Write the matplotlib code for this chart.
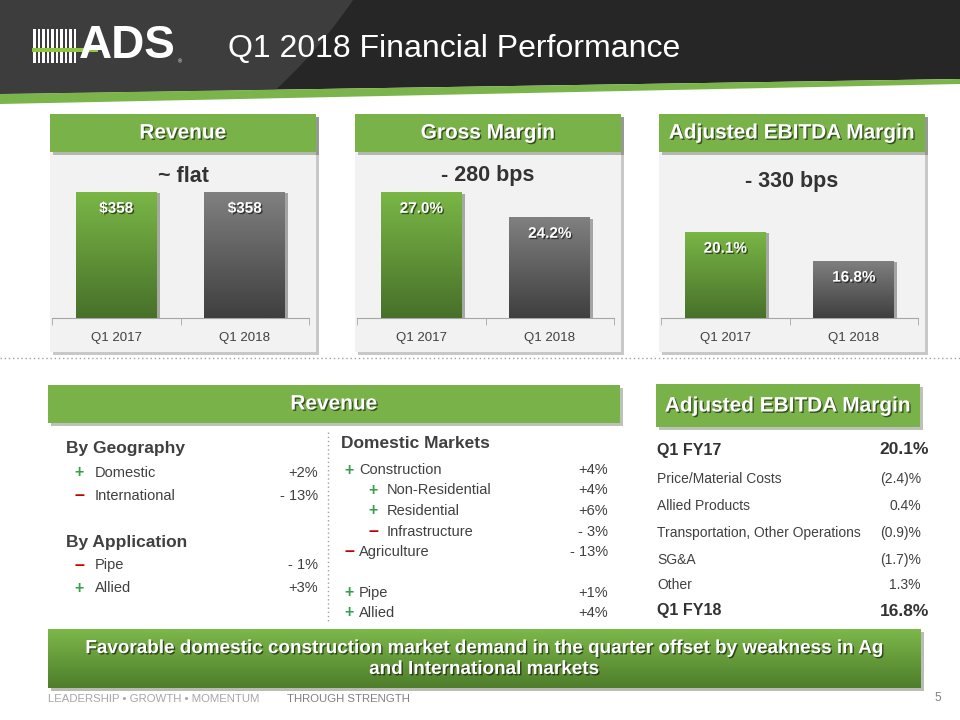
import matplotlib
matplotlib.use("Agg")
import matplotlib.pyplot as plt
import matplotlib.patches as mpatches
import matplotlib.patheffects as pe
import numpy as np
from matplotlib.colors import LinearSegmentedColormap

# ---- data -------------------------------------------------------------
quarters = ["Q1 2017", "Q1 2018"]
revenue = [358, 358]
gross_margin = [27.0, 24.2]
ebitda_margin = [20.1, 16.8]
panel_titles = ["Revenue", "Gross Margin", "Adjusted EBITDA Margin"]
panel_changes = ["~ flat", "- 280 bps", "- 330 bps"]

geo_labels = ["Domestic", "International"]
geo_changes = ["+2%", "- 13%"]
app_labels = ["Pipe", "Allied"]
app_changes = ["- 1%", "+3%"]
dom_labels = ["Construction", "Non-Residential", "Residential", "Infrastructure",
              "Agriculture", "Pipe", "Allied"]
dom_changes = ["+4%", "+4%", "+6%", "- 3%", "- 13%", "+1%", "+4%"]
dom_indent = [0, 1, 1, 1, 0, 0, 0]

bridge_start = ("Q1 FY17", "20.1%")
bridge_labels = ["Price/Material Costs", "Allied Products",
                 "Transportation, Other Operations", "SG&A", "Other"]
bridge_values = ["(2.4)%", "0.4%", "(0.9)%", "(1.7)%", "1.3%"]
bridge_end = ("Q1 FY18", "16.8%")

callout = ("Favorable domestic construction market demand in the quarter offset by weakness in Ag\n"
           "and International markets")

# ---- style ------------------------------------------------------------
FONT = ["Liberation Sans", "DejaVu Sans"]
GREEN = "#78b248"
DARK_TXT = "#404040"
PLUS_C = "#3a9e4f"
MINUS_C = "#c00000"

green_cmap = LinearSegmentedColormap.from_list("g", ["#7ab646", "#47712a"])
grey_cmap = LinearSegmentedColormap.from_list("k", ["#808080", "#3f3f3f"])
call_cmap = LinearSegmentedColormap.from_list("c", ["#7cb84a", "#4e7d2b"])

shadow = [pe.SimplePatchShadow(offset=(2.5, -2.5), alpha=0.3), pe.Normal()]
txt_shadow = [pe.withSimplePatchShadow(offset=(1, -1), shadow_rgbFace="black", alpha=0.55)]

fig = plt.figure(figsize=(9.6, 7.2), dpi=100, facecolor="white")
bg = fig.add_axes([0, 0, 1, 1])
bg.set_xlim(0, 960)
bg.set_ylim(720, 0)
bg.axis("off")

# ---- header band --------------------------------------------------------
xs = np.linspace(0, 960, 200)
green_top = 94 - 15 * xs / 960
green_bot = 104 - 20 * xs / 960
dark_poly = mpatches.Polygon(np.column_stack([np.r_[xs, 960, 0], np.r_[green_top, 0, 0]]),
                             closed=True, facecolor="#262626", edgecolor="none")
bg.add_patch(dark_poly)
swoosh = mpatches.Circle((-80, -295), 524, facecolor="#444444", edgecolor="none", alpha=0.8)
bg.add_patch(swoosh)
swoosh.set_clip_path(dark_poly)
bg.fill_between(xs, green_top, green_bot, color="#7ab44a", lw=0)

# logo
for k in range(10):
    bg.add_patch(mpatches.Rectangle((33 + k * 4.5, 29), 2.5, 34, color="white", lw=0))
bg.add_patch(mpatches.Rectangle((32, 48), 66, 4, color="#8dc63f", lw=0))
bg.text(79, 46, "ADS", color="white", fontsize=33, fontweight="bold", family=FONT,
        ha="left", va="center")
bg.text(178, 62, "\u00ae", color="white", fontsize=4, family=FONT, ha="left", va="center")
bg.text(228, 49, "Q1 2018 Financial Performance", color="white", fontsize=23,
        family=FONT, ha="left", va="center")

# ---- top bar panels ------------------------------------------------------
panel_left = [50, 355, 659]
panel_values = [revenue, gross_margin, ebitda_margin]
panel_ylims = [(0, 449), (12.9, 30.6), (10.3, 28.3)]
change_y = [176, 176, 181]

for i in range(3):
    left = panel_left[i]
    bg.add_patch(mpatches.Rectangle((left, 114), 266, 238, facecolor="#f2f2f2",
                                    edgecolor="none", path_effects=shadow))
    bg.add_patch(mpatches.Rectangle((left, 114), 266, 38, facecolor=GREEN,
                                    edgecolor="none", path_effects=shadow))
    bg.text(left + 133, 133, panel_titles[i], color="white", fontsize=15, fontweight="bold",
            family=FONT, ha="center", va="center", path_effects=txt_shadow)
    bg.text(left + 133, change_y[i], panel_changes[i], color="#333333", fontsize=15.5,
            fontweight="bold", family=FONT, ha="center", va="center")

    ax = fig.add_axes([(left + 2) / 960, (720 - 318) / 720, 257 / 960, 158 / 720])
    ax.patch.set_alpha(0)
    vals = panel_values[i]
    xpos = np.arange(len(quarters))
    bars = ax.bar(xpos, vals, width=0.63, color=["#47712a", "#3f3f3f"], zorder=2,
                  path_effects=[pe.SimplePatchShadow(offset=(2, -1), alpha=0.35), pe.Normal()])
    y0 = panel_ylims[i][0]
    grad = np.linspace(0, 1, 100).reshape(-1, 1)
    for j, b in enumerate(bars):
        cm = green_cmap if j == 0 else grey_cmap
        im = ax.imshow(grad, cmap=cm, aspect="auto", origin="upper", zorder=3,
                       extent=[b.get_x(), b.get_x() + b.get_width(), y0, vals[j]])
        im.set_clip_path(b)
        lab = f"${vals[j]:.0f}" if i == 0 else f"{vals[j]:.1f}%"
        ax.annotate(lab, xy=(xpos[j], vals[j]), xytext=(0, -12), textcoords="offset points",
                    ha="center", va="center", color="white", fontsize=11, fontweight="bold",
                    family=FONT, zorder=4, path_effects=txt_shadow)
    ax.set_xlim(-0.5, 1.5)
    ax.set_ylim(*panel_ylims[i])
    for s in ["top", "right", "left"]:
        ax.spines[s].set_visible(False)
    ax.spines["bottom"].set_color("#a6a6a6")
    ax.set_yticks([])
    ax.set_xticks(xpos)
    ax.set_xticklabels(quarters, family=FONT, fontsize=9.5, color=DARK_TXT)
    ax.tick_params(axis="x", length=0, pad=10)
    ax.set_xticks([-0.5, 0.5, 1.5], minor=True)
    ax.tick_params(axis="x", which="minor", length=5, color="#a6a6a6")

# dotted separator
bg.plot([0, 960], [358, 358], color="#a0a0a0", lw=1, ls=(0, (1, 2)))

# ---- bottom left: revenue breakdown --------------------------------------
bg.add_patch(mpatches.Rectangle((48, 385), 572, 38, facecolor=GREEN, edgecolor="none",
                                path_effects=shadow))
bg.text(334, 404, "Revenue", color="white", fontsize=15, fontweight="bold", family=FONT,
        ha="center", va="center", path_effects=txt_shadow)


def sign_row(xs, xl, xr, y, label, change):
    if change.startswith("+"):
        bg.text(xs, y, "+", color=PLUS_C, fontsize=11.5, fontweight="bold", family=FONT,
                ha="center", va="center")
    else:
        bg.text(xs, y, "\u2013", color=MINUS_C, fontsize=13, fontweight="bold", family=FONT,
                ha="center", va="center")
    bg.text(xl, y, label, color=DARK_TXT, fontsize=10.5, family=FONT, ha="left", va="center")
    bg.text(xr, y, change, color=DARK_TXT, fontsize=10.5, family=FONT, ha="right", va="center")


bg.text(66, 449, "By Geography", color=DARK_TXT, fontsize=12.5, fontweight="bold",
        family=FONT, ha="left", va="center")
for k, (lab, ch) in enumerate(zip(geo_labels, geo_changes)):
    sign_row(79, 95, 318, 473 + k * 23, lab, ch)
bg.text(66, 543, "By Application", color=DARK_TXT, fontsize=12.5, fontweight="bold",
        family=FONT, ha="left", va="center")
for k, (lab, ch) in enumerate(zip(app_labels, app_changes)):
    sign_row(79, 95, 318, 565 + k * 23, lab, ch)

bg.plot([328, 328], [432, 622], color="#a0a0a0", lw=1, ls=(0, (1, 2)))

bg.text(341, 443, "Domestic Markets", color=DARK_TXT, fontsize=12.5, fontweight="bold",
        family=FONT, ha="left", va="center")
dom_y = [470, 490, 511, 532, 552, 593, 613]
for lab, ch, ind, y in zip(dom_labels, dom_changes, dom_indent, dom_y):
    if ind:
        sign_row(373, 387, 608, y, lab, ch)
    else:
        sign_row(349, 359, 608, y, lab, ch)

# ---- bottom right: EBITDA bridge -------------------------------------------
bg.add_patch(mpatches.Rectangle((656, 384), 264, 43, facecolor=GREEN, edgecolor="none",
                                path_effects=shadow))
bg.text(788, 406, "Adjusted EBITDA Margin", color="white", fontsize=15, fontweight="bold",
        family=FONT, ha="center", va="center", path_effects=txt_shadow)

bg.text(657, 450, bridge_start[0], color="#333333", fontsize=11.5, fontweight="bold",
        family=FONT, ha="left", va="center")
bg.text(929, 450, bridge_start[1], color="#333333", fontsize=12.5, fontweight="bold",
        family=FONT, ha="right", va="center")
bridge_y = [479, 506, 533, 560, 585]
for lab, val, y in zip(bridge_labels, bridge_values, bridge_y):
    bg.text(657, y, lab, color=DARK_TXT, fontsize=10, family=FONT, ha="left", va="center")
    bg.text(921, y, val, color=DARK_TXT, fontsize=10, family=FONT, ha="right", va="center")
bg.text(657, 611, bridge_end[0], color="#333333", fontsize=11.5, fontweight="bold",
        family=FONT, ha="left", va="center")
bg.text(929, 611, bridge_end[1], color="#333333", fontsize=12.5, fontweight="bold",
        family=FONT, ha="right", va="center")

# ---- callout --------------------------------------------------------------
box = mpatches.Rectangle((48, 629), 873, 59, facecolor="#4e7d2b", edgecolor="none",
                         path_effects=shadow)
bg.add_patch(box)
cim = bg.imshow(np.linspace(0, 1, 100).reshape(-1, 1), cmap=call_cmap, aspect="auto",
                origin="upper", extent=[48, 921, 688, 629], zorder=2)
cim.set_clip_path(box)
bg.text(484, 659, callout, color="white", fontsize=13.6, fontweight="bold", family=FONT,
        ha="center", va="center", linespacing=1.3, zorder=3, path_effects=txt_shadow)

# ---- footer ---------------------------------------------------------------
bg.text(48, 699, "LEADERSHIP \u2022 GROWTH \u2022 MOMENTUM", color="#a6a6a6", fontsize=8.2,
        family=FONT, ha="left", va="center")
bg.text(287, 699, "THROUGH STRENGTH", color="#808080", fontsize=8.2, family=FONT,
        ha="left", va="center")
bg.text(938, 698, "5", color="#808080", fontsize=8.5, family=FONT, ha="center", va="center")

bg.set_xlim(0, 960)
bg.set_ylim(720, 0)

fig.savefig("out.png", dpi=100, facecolor="white")
